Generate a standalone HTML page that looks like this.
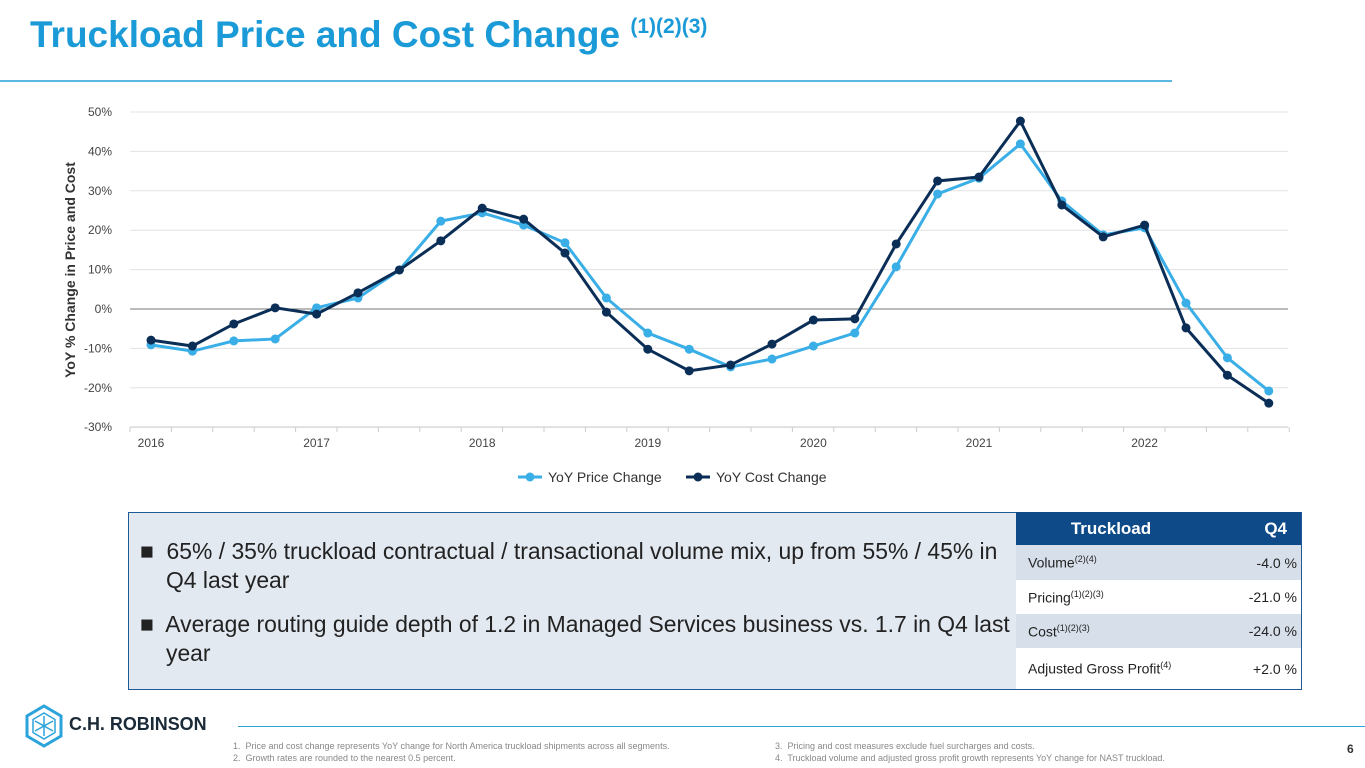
<!DOCTYPE html>
<html><head><meta charset="utf-8"><style>
body{margin:0;width:1365px;height:768px;position:relative;background:#fff;font-family:"Liberation Sans",Arial,sans-serif;overflow:hidden}
.abs{position:absolute}
sup{font-size:9px}
</style></head><body>
<div class="abs" style="left:30px;top:14px;font-size:37px;font-weight:bold;color:#1a9ad6;white-space:nowrap">Truckload Price and Cost Change <span style="font-size:21px;vertical-align:14px">(1)(2)(3)</span></div>
<div class="abs" style="left:0;top:80px;width:1172px;height:2px;background:#5bb8e0"></div>
<svg class="abs" style="left:0;top:0" width="1365" height="500">
<g id="grid"></g><g id="marks"></g><g id="labels"></g>
</svg>
<div class="abs" style="left:128px;top:512px;width:1172px;height:176px;background:#e3e9f1;border:1px solid #1f5a96"></div>
<div class="abs" style="left:140px;top:537px;width:848px;font-size:22.9px;line-height:29px;color:#222;padding-left:26px;text-indent:-26px">■&nbsp; 65% / 35% truckload contractual / transactional volume mix, up from 55% / 45% in Q4 last year</div>
<div class="abs" style="left:140px;top:610px;width:848px;font-size:22.9px;line-height:29px;color:#222;padding-left:26px;text-indent:-26px">■&nbsp; Average routing guide depth of 1.2 in Managed Services business vs. 1.7 in Q4 last year</div>
<div class="abs" style="left:1016px;top:512px;width:285px;height:177px;font-size:14px;color:#222">
<div style="height:33px;background:#0e4a88;color:#fff;font-weight:bold;font-size:17px;display:flex;align-items:center"><span style="width:190px;text-align:center">Truckload</span><span style="flex:1;text-align:right;padding-right:14px">Q4</span></div>
<div style="height:35px;background:#d7e0ea;display:flex;align-items:center;padding:0 4px 0 12px"><span style="flex:1">Volume<sup>(2)(4)</sup></span><span>-4.0 %</span></div>
<div style="height:34px;background:#fff;display:flex;align-items:center;padding:0 4px 0 12px"><span style="flex:1">Pricing<sup>(1)(2)(3)</sup></span><span>-21.0 %</span></div>
<div style="height:34px;background:#d7e0ea;display:flex;align-items:center;padding:0 4px 0 12px"><span style="flex:1">Cost<sup>(1)(2)(3)</sup></span><span>-24.0 %</span></div>
<div style="height:41px;background:#fff;display:flex;align-items:center;padding:0 4px 0 12px"><span style="flex:1">Adjusted Gross Profit<sup>(4)</sup></span><span>+2.0 %</span></div>
</div>
<svg class="abs" style="left:24px;top:704px" width="40" height="44"><polygon points="20,2 37,12 37,32 20,42 3,32 3,12" fill="none" stroke="#2ba3db" stroke-width="3"/><polygon points="20,9 31,15.5 31,28.5 20,35 9,28.5 9,15.5" fill="none" stroke="#2ba3db" stroke-width="1.5"/><path d="M20 12V32M11 17L29 27M29 17L11 27" stroke="#2ba3db" stroke-width="1.5"/></svg>
<div class="abs" style="left:69px;top:713px;font-size:18.5px;font-weight:bold;color:#1b2a38;transform:scaleX(0.97);transform-origin:0 0;white-space:nowrap">C.H. ROBINSON</div>
<div class="abs" style="left:238px;top:726px;width:1127px;height:1px;background:#2ba3db"></div>
<div class="abs" style="left:233px;top:740px;font-size:9px;line-height:12px;color:#888">1.&nbsp; Price and cost change represents YoY change for North America truckload shipments across all segments.<br>2.&nbsp; Growth rates are rounded to the nearest 0.5 percent.</div>
<div class="abs" style="left:775px;top:740px;font-size:9px;line-height:12px;color:#888">3.&nbsp; Pricing and cost measures exclude fuel surcharges and costs.<br>4.&nbsp; Truckload volume and adjusted gross profit growth represents YoY change for NAST truckload.</div>
<div class="abs" style="left:1347px;top:742px;font-size:12px;font-weight:bold;color:#333">6</div>
<script>
const years=["2016","2017","2018","2019","2020","2021","2022"];
const yTicks=[50,40,30,20,10,0,-10,-20,-30];
const priceVals=[-9.1,-10.7,-8.1,-7.6,0.3,2.8,9.9,22.3,24.4,21.3,16.8,2.8,-6.1,-10.2,-14.7,-12.7,-9.4,-6.1,10.7,29.2,33.2,41.9,27.4,18.8,20.6,1.5,-12.4,-20.8];
const costVals=[-7.9,-9.4,-3.8,0.3,-1.3,4.1,9.9,17.3,25.6,22.8,14.2,-0.8,-10.2,-15.7,-14.2,-8.9,-2.8,-2.5,16.5,32.5,33.5,47.7,26.4,18.3,21.3,-4.8,-16.8,-23.9];
const NS="http://www.w3.org/2000/svg";
const x=i=>151+i*41.4, y=v=>309-v*3.94;
function mk(tag,attrs,parent,text){const e=document.createElementNS(NS,tag);for(const k in attrs)e.setAttribute(k,attrs[k]);if(text!==undefined)e.textContent=text;document.getElementById(parent).appendChild(e);return e;}
yTicks.forEach(t=>{
 const l=mk('line',{x1:130,x2:1288,y1:y(t),y2:y(t),stroke:t===0?'#777':'#e3e3e3','stroke-width':1},'grid');
 
 
 const tx=mk('text',{x:112,y:y(t)+4,'text-anchor':'end','font-size':12,fill:'#444'},'labels',t+'%');
 
 
});
mk('line',{x1:130,x2:1288,y1:427,y2:427,stroke:'#ccc'},'grid');
for(let i=0;i<=28;i++){const xx=130+i*41.4;mk('line',{x1:xx,x2:xx,y1:427,y2:432,stroke:'#ccc'},'grid');}
years.forEach((yr,k)=>{
 const tx=mk('text',{x:x(k*4),y:447,'text-anchor':'middle','font-size':12,fill:'#444'},'labels',yr);
 
 
});
const yt=mk('text',{x:0,y:0,transform:'translate(75,270) rotate(-90)','text-anchor':'middle','font-size':14,'font-weight':'bold',fill:'#333'},'labels','YoY % Change in Price and Cost');


function series(vals,color,name){
 const p=mk('polyline',{points:vals.map((v,i)=>x(i)+','+y(v)).join(' '),fill:'none',stroke:color,'stroke-width':3},'marks');
 
 
 vals.forEach((v,i)=>{const c=mk('circle',{cx:x(i),cy:y(v),r:4.5,fill:color},'marks');
  
  });
}
series(priceVals,'#3aaee6','price');
series(costVals,'#0b2e57','cost');
[[518,'#3aaee6','YoY Price Change','legend-price'],[686,'#0b2e57','YoY Cost Change','legend-cost']].forEach(([lx,c,t,n])=>{
 const g=mk('g',{},'labels');
 
 
 const l=document.createElementNS(NS,'line');l.setAttribute('x1',lx);l.setAttribute('x2',lx+24);l.setAttribute('y1',477);l.setAttribute('y2',477);l.setAttribute('stroke',c);l.setAttribute('stroke-width',3);g.appendChild(l);
 const ci=document.createElementNS(NS,'circle');ci.setAttribute('cx',lx+12);ci.setAttribute('cy',477);ci.setAttribute('r',4.5);ci.setAttribute('fill',c);g.appendChild(ci);
 const tx=document.createElementNS(NS,'text');tx.setAttribute('x',lx+30);tx.setAttribute('y',482);tx.setAttribute('font-size',14);tx.setAttribute('fill','#333');tx.textContent=t;g.appendChild(tx);
});
</script>
</body></html>
